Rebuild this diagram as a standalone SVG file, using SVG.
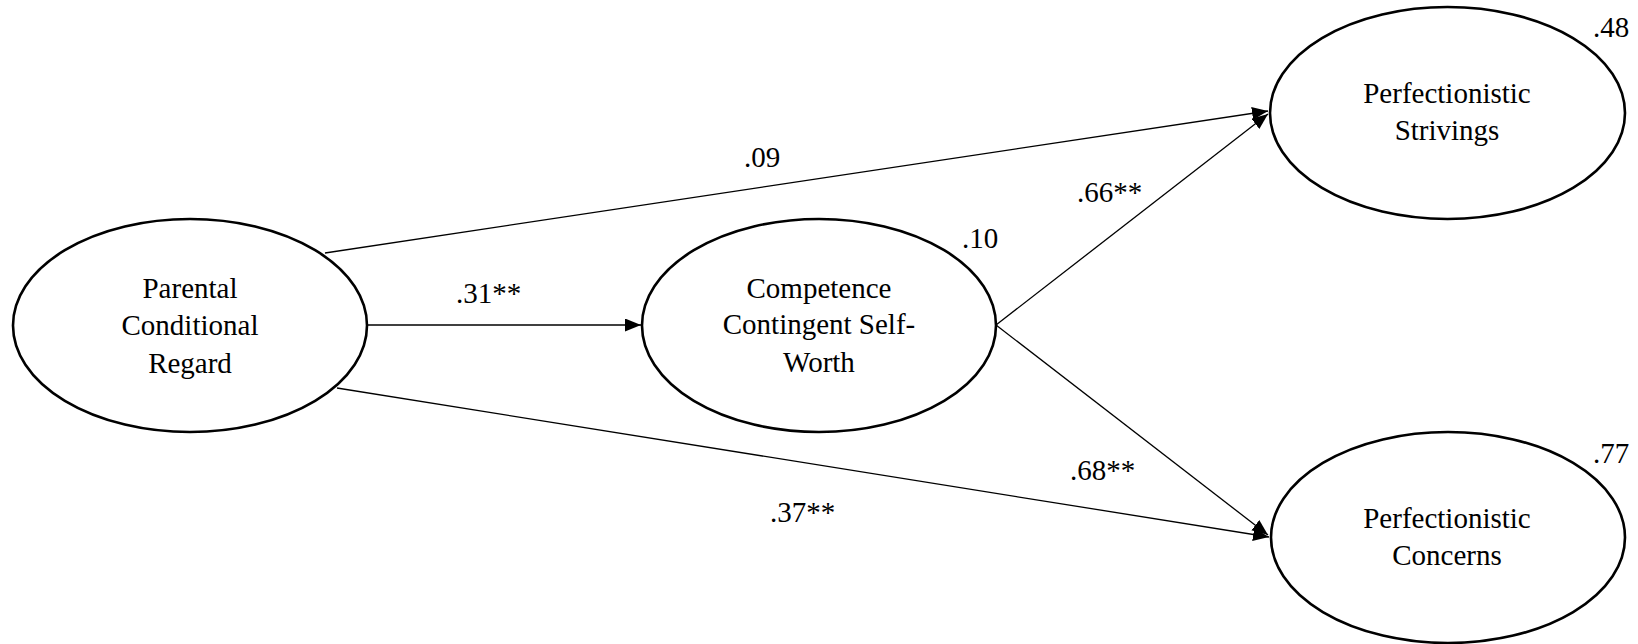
<svg xmlns="http://www.w3.org/2000/svg" width="1638" height="644" viewBox="0 0 1638 644">
<style>
.node ellipse{fill:#fff;stroke:#000;stroke-width:2.6}
text{font-family:'Liberation Serif','Times New Roman',serif;font-size:29px;fill:#000}
.lbl{text-anchor:middle}
#connectors line{stroke:#000;stroke-width:1.3;fill:none;marker-end:url(#arr)}
</style>
<defs>
<marker id="arr" markerUnits="userSpaceOnUse" markerWidth="17" markerHeight="14" refX="16" refY="6.5" orient="auto">
<path d="M0,0 L16,6.5 L0,13 z" fill="#000"/>
</marker>
</defs>
<rect width="1638" height="644" fill="#fff"/>
<g id="connectors">
<line x1="325" y1="253" x2="1268" y2="111"/>
<line x1="367" y1="325" x2="641" y2="325"/>
<line x1="337" y1="388" x2="1269" y2="537"/>
<line x1="996" y1="325" x2="1268" y2="114"/>
<line x1="996" y1="325" x2="1268" y2="535"/>
</g>
<g id="edge-labels">
<text x="744" y="167">.09</text>
<text x="456" y="303">.31**</text>
<text x="1077" y="202">.66**</text>
<text x="1070" y="480">.68**</text>
<text x="770" y="522">.37**</text>
</g>
<g id="node-parental" class="node">
<ellipse cx="190" cy="325.5" rx="177" ry="106.5"/>
<text class="lbl" x="190" y="298">Parental</text>
<text class="lbl" x="190" y="335">Conditional</text>
<text class="lbl" x="190" y="373">Regard</text>
</g>
<g id="node-competence" class="node">
<ellipse cx="819" cy="325.5" rx="177" ry="106.5"/>
<text class="lbl" x="819" y="298">Competence</text>
<text class="lbl" x="819" y="334">Contingent Self-</text>
<text class="lbl" x="819" y="372">Worth</text>
<text x="962" y="248">.10</text>
</g>
<g id="node-strivings" class="node">
<ellipse cx="1447.5" cy="113" rx="177.5" ry="106"/>
<text class="lbl" x="1447" y="103">Perfectionistic</text>
<text class="lbl" x="1447" y="140">Strivings</text>
<text x="1593" y="37">.48</text>
</g>
<g id="node-concerns" class="node">
<ellipse cx="1448" cy="537.5" rx="177" ry="105.5"/>
<text class="lbl" x="1447" y="528">Perfectionistic</text>
<text class="lbl" x="1447" y="565">Concerns</text>
<text x="1593" y="463">.77</text>
</g>
</svg>
